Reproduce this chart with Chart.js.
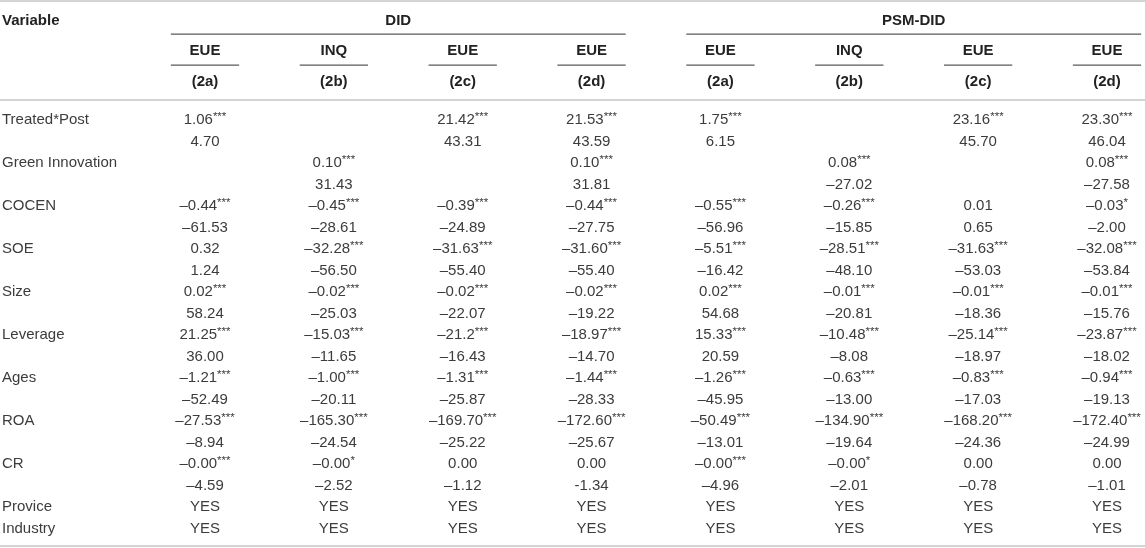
<!DOCTYPE html>
<html>
<head>
<meta charset="utf-8">
<script src="https://cdn.jsdelivr.net/npm/chart.js@4.4.1/dist/chart.umd.min.js"></script>
<style>
  html, body { margin: 0; padding: 0; background: #fff; }
  #wrap { width: 1145px; height: 548px; position: relative; }
</style>
</head>
<body>
<div id="wrap"><canvas id="table"></canvas></div>
<script>
// table content
const groups = ["DID", "PSM-DID"];
const models = ["EUE", "INQ", "EUE", "EUE", "EUE", "INQ", "EUE", "EUE"];
const codes = ["(2a)", "(2b)", "(2c)", "(2d)", "(2a)", "(2b)", "(2c)", "(2d)"];
const variables = ["Treated*Post", "Green Innovation", "COCEN", "SOE", "Size", "Leverage", "Ages", "ROA", "CR"];
const fixedEffects = ["Provice", "Industry"];

const coefDid2a = ["1.06***", "", "–0.44***", "0.32", "0.02***", "21.25***", "–1.21***", "–27.53***", "–0.00***"];
const tDid2a = ["4.70", "", "–61.53", "1.24", "58.24", "36.00", "–52.49", "–8.94", "–4.59"];
const coefDid2b = ["", "0.10***", "–0.45***", "–32.28***", "–0.02***", "–15.03***", "–1.00***", "–165.30***", "–0.00*"];
const tDid2b = ["", "31.43", "–28.61", "–56.50", "–25.03", "–11.65", "–20.11", "–24.54", "–2.52"];
const coefDid2c = ["21.42***", "", "–0.39***", "–31.63***", "–0.02***", "–21.2***", "–1.31***", "–169.70***", "0.00"];
const tDid2c = ["43.31", "", "–24.89", "–55.40", "–22.07", "–16.43", "–25.87", "–25.22", "–1.12"];
const coefDid2d = ["21.53***", "0.10***", "–0.44***", "–31.60***", "–0.02***", "–18.97***", "–1.44***", "–172.60***", "0.00"];
const tDid2d = ["43.59", "31.81", "–27.75", "–55.40", "–19.22", "–14.70", "–28.33", "–25.67", "-1.34"];
const coefPsm2a = ["1.75***", "", "–0.55***", "–5.51***", "0.02***", "15.33***", "–1.26***", "–50.49***", "–0.00***"];
const tPsm2a = ["6.15", "", "–56.96", "–16.42", "54.68", "20.59", "–45.95", "–13.01", "–4.96"];
const coefPsm2b = ["", "0.08***", "–0.26***", "–28.51***", "–0.01***", "–10.48***", "–0.63***", "–134.90***", "–0.00*"];
const tPsm2b = ["", "–27.02", "–15.85", "–48.10", "–20.81", "–8.08", "–13.00", "–19.64", "–2.01"];
const coefPsm2c = ["23.16***", "", "0.01", "–31.63***", "–0.01***", "–25.14***", "–0.83***", "–168.20***", "0.00"];
const tPsm2c = ["45.70", "", "0.65", "–53.03", "–18.36", "–18.97", "–17.03", "–24.36", "–0.78"];
const coefPsm2d = ["23.30***", "0.08***", "–0.03*", "–32.08***", "–0.01***", "–23.87***", "–0.94***", "–172.40***", "0.00"];
const tPsm2d = ["46.04", "–27.58", "–2.00", "–53.84", "–15.76", "–18.02", "–19.13", "–24.99", "–1.01"];
const provice = ["YES", "YES", "YES", "YES", "YES", "YES", "YES", "YES"];
const industry = ["YES", "YES", "YES", "YES", "YES", "YES", "YES", "YES"];

const coefCols = [coefDid2a, coefDid2b, coefDid2c, coefDid2d, coefPsm2a, coefPsm2b, coefPsm2c, coefPsm2d];
const tCols = [tDid2a, tDid2b, tDid2c, tDid2d, tPsm2a, tPsm2b, tPsm2c, tPsm2d];

const FONT = '"Liberation Sans", Arial, Helvetica, sans-serif';
const bodyFont = '15px ' + FONT;
const starFont = '11.5px ' + FONT;
const boldFont = 'bold 15px ' + FONT;

// header rows, in row units of the y scale (body row 0 = first variable)
const hdr = { top: -5.53, group: -4.6, groupRule: -3.99, model: -3.2, modelRule: -2.55, code: -1.77, rule: -0.93, bottom: 19.81 };
const halfCol = 0.265;

function buildDatasets() {
    let sets = [];
    let labelPts = [];
    variables.forEach((v, i) => labelPts.push({ x: -1.591, y: 2 * i, text: v }));
    fixedEffects.forEach((v, i) => labelPts.push({ x: -1.591, y: 18 + i, text: v }));
    sets.push({ label: "Variable", data: labelPts, align: "left", pointRadius: 0 });

    for (let j = 0; j < coefCols.length; j++) {
        let pts = [];
        for (let i = 0; i < variables.length; i++) {
            if (coefCols[j][i]) pts.push({ x: j, y: 2 * i, text: coefCols[j][i] });
            if (tCols[j][i]) pts.push({ x: j, y: 2 * i + 1, text: tCols[j][i] });
        }
        pts.push({ x: j, y: 18, text: provice[j] });
        pts.push({ x: j, y: 19, text: industry[j] });
        sets.push({ label: models[j] + " " + codes[j], data: pts, align: "center", pointRadius: 0 });
    }
    return sets;
}

function drawCell(ctx, text, x, y, align) {
    let m = text.match(/^(.*?)(\*+)$/);
    let base = m ? m[1] : text;
    let stars = m ? m[2] : "";
    ctx.font = bodyFont;
    let w1 = ctx.measureText(base).width;
    ctx.font = starFont;
    let w2 = stars ? ctx.measureText(stars).width : 0;
    let x0 = align === "left" ? x + 2 : x - (w1 + w2) / 2;
    ctx.textAlign = "left";
    ctx.textBaseline = "middle";
    ctx.font = bodyFont;
    ctx.fillText(base, x0, y);
    if (stars) {
        ctx.font = starFont;
        ctx.fillText(stars, x0 + w1, y - 3.5);
    }
}

function hLine(ctx, x1, x2, y, color, width) {
    ctx.beginPath();
    ctx.strokeStyle = color;
    ctx.lineWidth = width;
    ctx.moveTo(x1, y);
    ctx.lineTo(x2, y);
    ctx.stroke();
}

const tablePlugin = {
    id: "tableText",
    afterDatasetsDraw(chart) {
        let ctx = chart.ctx;
        let xs = chart.scales.x, ys = chart.scales.y;
        let area = chart.chartArea;
        ctx.save();

        // rules
        hLine(ctx, area.left, area.right, ys.getPixelForValue(hdr.top), "#d4d4d4", 2);
        hLine(ctx, area.left, area.right, ys.getPixelForValue(hdr.rule), "#d4d4d4", 2);
        hLine(ctx, area.left, area.right, ys.getPixelForValue(hdr.bottom), "#d4d4d4", 2);
        groups.forEach((g, k) => {
            let a = xs.getPixelForValue(k * 4 - halfCol);
            let b = Math.min(area.right, xs.getPixelForValue(k * 4 + 3 + halfCol));
            hLine(ctx, a, b, ys.getPixelForValue(hdr.groupRule), "#5a5a5a", 1.2);
            ctx.fillStyle = "#222";
            ctx.font = boldFont;
            ctx.textAlign = "center";
            ctx.textBaseline = "middle";
            ctx.fillText(g, (a + b) / 2, ys.getPixelForValue(hdr.group));
        });
        models.forEach((m, j) => {
            let a = xs.getPixelForValue(j - halfCol);
            let b = Math.min(area.right, xs.getPixelForValue(j + halfCol));
            hLine(ctx, a, b, ys.getPixelForValue(hdr.modelRule), "#5a5a5a", 1.2);
            ctx.fillStyle = "#222";
            ctx.font = boldFont;
            ctx.textAlign = "center";
            ctx.textBaseline = "middle";
            ctx.fillText(m, (a + b) / 2, ys.getPixelForValue(hdr.model));
            ctx.fillText(codes[j], (a + b) / 2, ys.getPixelForValue(hdr.code));
        });
        ctx.font = boldFont;
        ctx.textAlign = "left";
        ctx.fillText("Variable", area.left + 2, ys.getPixelForValue(hdr.group));

        // body cells, positioned by the dataset elements
        ctx.fillStyle = "#3c3c3c";
        chart.data.datasets.forEach((ds, i) => {
            let meta = chart.getDatasetMeta(i);
            meta.data.forEach((el, k) => {
                drawCell(ctx, ds.data[k].text, el.x, el.y, ds.align);
            });
        });
        ctx.restore();
    }
};

new Chart(document.getElementById("table"), {
    type: "scatter",
    data: { datasets: buildDatasets() },
    options: {
        responsive: true,
        maintainAspectRatio: false,
        animation: false,
        layout: { padding: 0 },
        plugins: { legend: { display: false }, tooltip: { enabled: false } },
        scales: {
            x: { type: "linear", display: false, min: -1.591, max: 7.295 },
            y: { type: "linear", display: false, reverse: true, min: -5.581, max: 19.907 }
        }
    },
    plugins: [tablePlugin]
});
</script>
</body>
</html>
